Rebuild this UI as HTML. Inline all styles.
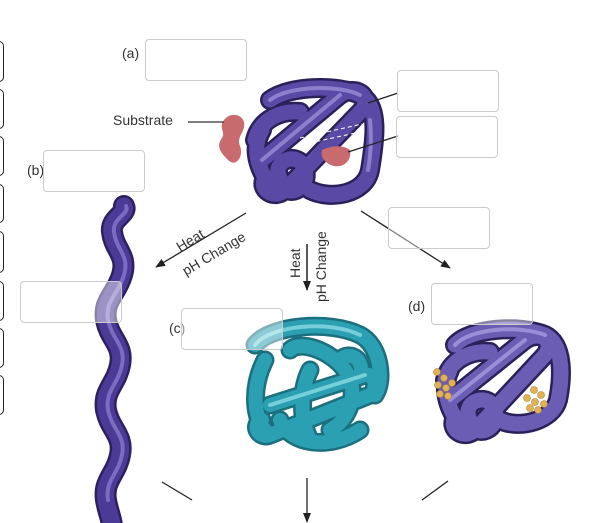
<!DOCTYPE html>
<html><head><meta charset="utf-8"><style>
html,body{margin:0;padding:0;background:#fff;}
body{width:615px;height:523px;overflow:hidden;position:relative;font-family:"Liberation Sans",sans-serif;}
svg{position:absolute;left:0;top:0}
.box{position:absolute;border:1px solid #ccc;border-radius:4px;background:rgba(255,255,255,0.45);}
.lb{position:absolute;border:1px solid #222;border-left:none;border-radius:0 5px 5px 0;left:-6px;width:9px;}
.t{position:absolute;font-size:14px;color:#333;}
</style></head><body>
<svg width="615" height="523" viewBox="0 0 615 523">
<defs>
<marker id="ah" markerWidth="10" markerHeight="8" refX="9" refY="4" orient="auto" markerUnits="userSpaceOnUse"><path d="M0,0 L10,4 L0,8 z" fill="#222"/></marker>
</defs>
<!-- wavy unfolded chain -->
<path d="M124,206 C128,214 110,218 112,232 C114,250 128,255 122,275 C116,295 103,300 106,320 C110,340 124,345 120,365 C116,385 103,390 106,410 C110,430 124,435 120,455 C116,475 103,480 106,500 C108,512 112,520 112,526" fill="none" stroke="#2e2060" stroke-width="22" stroke-linecap="round"/>
<path d="M124,206 C128,214 110,218 112,232 C114,250 128,255 122,275 C116,295 103,300 106,320 C110,340 124,345 120,365 C116,385 103,390 106,410 C110,430 124,435 120,455 C116,475 103,480 106,500 C108,512 112,520 112,526" fill="none" stroke="#4b3a96" stroke-width="17" stroke-linecap="round"/>
<path d="M124,206 C128,214 110,218 112,232 C114,250 128,255 122,275 C116,295 103,300 106,320 C110,340 124,345 120,365 C116,385 103,390 106,410 C110,430 124,435 120,455 C116,475 103,480 106,500" fill="none" stroke="#7a6cc0" stroke-width="4" stroke-linecap="round" transform="translate(2,0)"/>
<!-- substrate -->
<path d="M224,120 C230,112 242,114 244,122 C246,132 236,136 240,146 C244,156 236,168 228,160 C220,152 216,146 222,138 C226,132 218,128 224,120 z" fill="#c96a6e"/>
<line x1="188" y1="122" x2="224" y2="122" stroke="#333" stroke-width="1.3"/>
<!-- native protein -->
<g fill="none" stroke-linecap="round" stroke-linejoin="round">
<path d="M270,100 C290,85 340,85 360,95 C380,105 375,140 370,170 C365,195 330,200 310,190 M255,140 C260,120 280,110 300,112 M262,160 L340,95 C355,85 372,95 362,110 L285,190 C275,200 258,190 265,178 M280,178 C270,160 300,150 305,170 C310,190 285,200 280,180 M262,130 C250,150 260,175 275,190" stroke="#2b205a" stroke-width="20"/>
<path d="M270,100 C290,85 340,85 360,95 C380,105 375,140 370,170 C365,195 330,200 310,190 M255,140 C260,120 280,110 300,112 M262,160 L340,95 C355,85 372,95 362,110 L285,190 C275,200 258,190 265,178 M280,178 C270,160 300,150 305,170 C310,190 285,200 280,180 M262,130 C250,150 260,175 275,190" stroke="#5a4aa6" stroke-width="15"/>
<path d="M270,100 C290,85 340,85 360,95 M262,160 L340,95 M370,120 C372,140 370,160 368,170" stroke="#8c80cc" stroke-width="4"/>
</g>
<path d="M322,150 C330,146 342,144 350,150 C352,160 344,168 334,166 C326,164 320,158 322,150 z" fill="#c96a6e"/>
<path d="M300,138 L362,124 M296,146 L360,132" stroke="#fff" stroke-width="1" stroke-dasharray="4,3"/>
<line x1="348" y1="152" x2="398" y2="136" stroke="#222" stroke-width="1.3"/>
<line x1="368" y1="103" x2="398" y2="93" stroke="#222" stroke-width="1.3"/>
<!-- arrows -->
<line x1="246" y1="213" x2="156" y2="267" stroke="#222" stroke-width="1.3" marker-end="url(#ah)"/>
<line x1="307" y1="244" x2="307" y2="290" stroke="#222" stroke-width="1.5" marker-end="url(#ah)"/>
<line x1="361" y1="211" x2="450" y2="268" stroke="#222" stroke-width="1.3" marker-end="url(#ah)"/>
<line x1="307" y1="478" x2="307" y2="522" stroke="#222" stroke-width="1.3" marker-end="url(#ah)"/>
<line x1="162" y1="482" x2="192" y2="500" stroke="#222" stroke-width="1.3"/>
<line x1="448" y1="481" x2="422" y2="500" stroke="#222" stroke-width="1.3"/>
<text x="0" y="0" font-size="14" fill="#333" font-family="Liberation Sans,sans-serif" transform="translate(180,252) rotate(-31)">Heat</text>
<text x="0" y="0" font-size="14" fill="#333" font-family="Liberation Sans,sans-serif" transform="translate(186,276) rotate(-31)">pH Change</text>
<text x="0" y="0" font-size="14" fill="#333" font-family="Liberation Sans,sans-serif" transform="translate(300,278) rotate(-90)">Heat</text>
<text x="0" y="0" font-size="14" fill="#333" font-family="Liberation Sans,sans-serif" transform="translate(326,302) rotate(-90)">pH Change</text>
<!-- teal protein -->
<g fill="none" stroke-linecap="round" stroke-linejoin="round">
<path d="M255,345 C270,325 330,320 360,335 C380,345 385,380 375,395 M265,360 C250,390 255,420 265,430 M270,405 L365,375 C375,372 378,390 370,395 L270,435 C260,440 250,425 262,420 M290,350 C300,340 330,350 345,370 C360,390 350,420 330,430 M310,370 C300,390 300,420 310,440 M340,360 C350,350 365,360 360,375 M280,420 C290,445 330,450 360,430" stroke="#1b6f7e" stroke-width="19"/>
<path d="M255,345 C270,325 330,320 360,335 C380,345 385,380 375,395 M265,360 C250,390 255,420 265,430 M270,405 L365,375 C375,372 378,390 370,395 L270,435 C260,440 250,425 262,420 M290,350 C300,340 330,350 345,370 C360,390 350,420 330,430 M310,370 C300,390 300,420 310,440 M340,360 C350,350 365,360 360,375 M280,420 C290,445 330,450 360,430" stroke="#2ba0b2" stroke-width="14"/>
<path d="M255,345 C270,325 330,320 360,335 M270,405 L365,375" stroke="#76cfd9" stroke-width="4"/>
</g>
<!-- purple with inhibitors -->
<g fill="none" stroke-linecap="round" stroke-linejoin="round">
<path d="M455,345 C470,328 520,325 545,335 C565,345 562,380 558,400 C553,420 520,430 500,420 M445,380 C450,360 470,350 490,352 M450,400 L525,340 C540,330 555,340 545,355 L475,430 C465,440 448,430 455,418 M470,420 C460,400 490,392 495,410 C500,430 475,440 470,420 M450,370 C440,390 450,415 465,430" stroke="#2b205a" stroke-width="20"/>
<path d="M455,345 C470,328 520,325 545,335 C565,345 562,380 558,400 C553,420 520,430 500,420 M445,380 C450,360 470,350 490,352 M450,400 L525,340 C540,330 555,340 545,355 L475,430 C465,440 448,430 455,418 M470,420 C460,400 490,392 495,410 C500,430 475,440 470,420 M450,370 C440,390 450,415 465,430" stroke="#6b5db4" stroke-width="15"/>
<path d="M455,345 C470,328 520,325 545,335 M450,400 L525,340" stroke="#9a8ed6" stroke-width="4"/>
</g>
<g fill="#e0b257" stroke="#b08030" stroke-width="0.6">
<circle cx="437" cy="372" r="3.5"/><circle cx="444" cy="378" r="3.5"/><circle cx="438" cy="385" r="3.5"/><circle cx="446" cy="388" r="3.5"/><circle cx="440" cy="394" r="3.5"/><circle cx="448" cy="396" r="3.5"/><circle cx="452" cy="383" r="3.5"/>
<circle cx="534" cy="390" r="3.5"/><circle cx="541" cy="395" r="3.5"/><circle cx="527" cy="398" r="3.5"/><circle cx="535" cy="402" r="3.5"/><circle cx="544" cy="404" r="3.5"/><circle cx="530" cy="408" r="3.5"/><circle cx="538" cy="410" r="3.5"/>
</g>
</svg>
<div class="lb" style="top:41px;height:39px"></div>
<div class="lb" style="top:89px;height:38px"></div>
<div class="lb" style="top:136px;height:38px"></div>
<div class="lb" style="top:184px;height:37px"></div>
<div class="lb" style="top:231px;height:40px"></div>
<div class="lb" style="top:281px;height:38px"></div>
<div class="lb" style="top:328px;height:38px"></div>
<div class="lb" style="top:375px;height:38px"></div>
<div class="t" style="left:122px;top:45px">(a)</div>
<div class="t" style="left:113px;top:112px">Substrate</div>
<div class="t" style="left:27px;top:162px">(b)</div>
<div class="t" style="left:169px;top:320px">(c)</div>
<div class="t" style="left:408px;top:298px">(d)</div>
<div class="box" style="left:145px;top:39px;width:100px;height:40px"></div>
<div class="box" style="left:397px;top:70px;width:100px;height:40px"></div>
<div class="box" style="left:396px;top:116px;width:100px;height:40px"></div>
<div class="box" style="left:43px;top:150px;width:100px;height:40px"></div>
<div class="box" style="left:388px;top:207px;width:100px;height:40px"></div>
<div class="box" style="left:20px;top:281px;width:100px;height:40px"></div>
<div class="box" style="left:181px;top:308px;width:100px;height:40px"></div>
<div class="box" style="left:431px;top:283px;width:100px;height:40px"></div>
</body></html>
